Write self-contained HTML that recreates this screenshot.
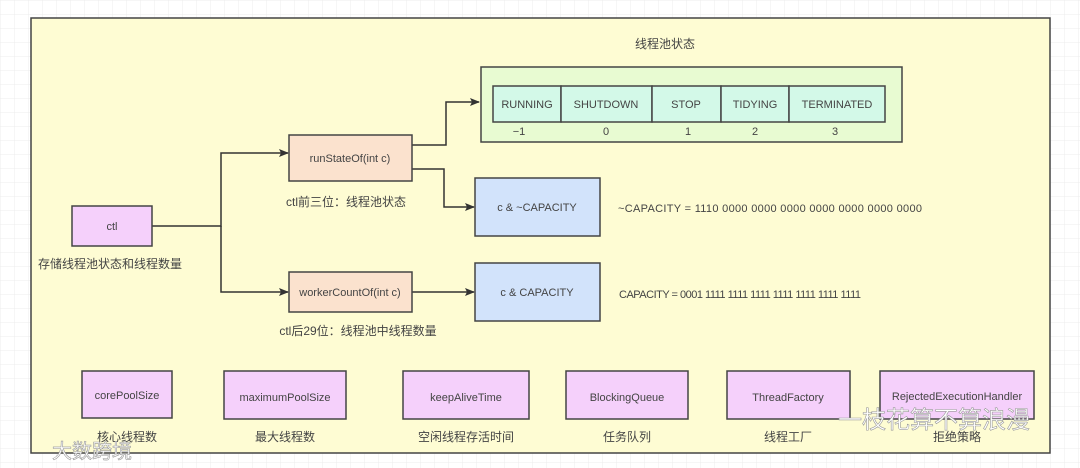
<!DOCTYPE html>
<html><head><meta charset="utf-8"><style>
html,body{margin:0;padding:0;background:#fff;}
svg{display:block;}
text{font-family:"Liberation Sans","Noto Sans CJK SC",sans-serif;font-size:11px;fill:#444;}
.c{font-size:12px;}
</style></head><body>
<svg width="1080" height="468" viewBox="0 0 1080 468" xmlns="http://www.w3.org/2000/svg">
<defs>
<pattern id="g" width="14" height="14" patternUnits="userSpaceOnUse"><path d="M14 0H0V14" fill="none" stroke="#ececec" stroke-width="1"/></pattern>
<marker id="a" markerWidth="10" markerHeight="8" refX="9" refY="4" orient="auto" markerUnits="userSpaceOnUse"><path d="M0,0L10,4L0,8L2,4z" fill="#333"/></marker>
</defs>
<rect width="1080" height="468" fill="url(#g)"/>
<rect x="31" y="18" width="1019" height="435" fill="#fefcd3" stroke="#444" stroke-width="1.5"/>
<text class="c" x="665" y="48" text-anchor="middle">线程池状态</text>
<rect x="481" y="67" width="421" height="75" fill="#e8fbd2" stroke="#444" stroke-width="1.5"/>
<g stroke="#444" stroke-width="1.5" fill="#d3f9e8">
<rect x="493" y="86" width="68" height="36"/><rect x="561" y="86" width="91" height="36"/><rect x="652" y="86" width="69" height="36"/><rect x="721" y="86" width="68" height="36"/><rect x="789" y="86" width="96" height="36"/>
</g>
<g text-anchor="middle">
<text x="527" y="108">RUNNING</text><text x="606" y="108">SHUTDOWN</text><text x="686" y="108">STOP</text><text x="755" y="108">TIDYING</text><text x="837" y="108">TERMINATED</text>
<text x="519" y="135">−1</text><text x="606" y="135">0</text><text x="688" y="135">1</text><text x="755" y="135">2</text><text x="835" y="135">3</text>
</g>
<g stroke="#333" stroke-width="1.5" fill="none">
<path d="M152 226H221V153H288" marker-end="url(#a)"/>
<path d="M221 226V292H288" marker-end="url(#a)"/>
<path d="M412 145H446V102H479" marker-end="url(#a)"/>
<path d="M412 169H444V207H474" marker-end="url(#a)"/>
<path d="M412 292H474" marker-end="url(#a)"/>
</g>
<rect x="72" y="206" width="80" height="40" fill="#f5d0fb" stroke="#444" stroke-width="1.5"/>
<text x="112" y="230" text-anchor="middle">ctl</text>
<text class="c" x="110" y="268" text-anchor="middle">存储线程池状态和线程数量</text>
<rect x="289" y="135" width="123" height="46" fill="#fbe2ce" stroke="#444" stroke-width="1.5"/>
<text x="350" y="162" text-anchor="middle">runStateOf(int c)</text>
<text class="c" x="346" y="206" text-anchor="middle">ctl前三位：线程池状态</text>
<rect x="289" y="272" width="123" height="40" fill="#fbe2ce" stroke="#444" stroke-width="1.5"/>
<text x="350" y="296" text-anchor="middle">workerCountOf(int c)</text>
<text class="c" x="358" y="335" text-anchor="middle">ctl后29位：线程池中线程数量</text>
<rect x="475" y="178" width="125" height="58" fill="#d2e3fb" stroke="#444" stroke-width="1.5"/>
<text x="537" y="211" text-anchor="middle">c &amp; ~CAPACITY</text>
<rect x="475" y="263" width="125" height="58" fill="#d2e3fb" stroke="#444" stroke-width="1.5"/>
<text x="537" y="296" text-anchor="middle">c &amp; CAPACITY</text>
<text x="618" y="212" textLength="304">~CAPACITY = 1110 0000 0000 0000 0000 0000 0000 0000</text>
<text x="619" y="298" textLength="242">CAPACITY = 0001 1111 1111 1111 1111 1111 1111 1111</text>
<g stroke="#444" stroke-width="1.5" fill="#f5d0fb">
<rect x="82" y="371" width="90" height="47"/><rect x="224" y="371" width="122" height="48"/><rect x="403" y="371" width="126" height="48"/><rect x="566" y="371" width="122" height="48"/><rect x="727" y="371" width="123" height="48"/><rect x="880" y="371" width="154" height="48"/>
</g>
<g text-anchor="middle">
<text x="127" y="399">corePoolSize</text><text x="285" y="401">maximumPoolSize</text><text x="466" y="401">keepAliveTime</text><text x="627" y="401">BlockingQueue</text><text x="788" y="401">ThreadFactory</text><text x="957" y="400">RejectedExecutionHandler</text>
<text class="c" x="127" y="441">核心线程数</text><text class="c" x="285" y="441">最大线程数</text><text class="c" x="466" y="441">空闲线程存活时间</text><text class="c" x="627" y="441">任务队列</text><text class="c" x="788" y="441">线程工厂</text><text class="c" x="957" y="441">拒绝策略</text>
</g>
<text x="838" y="428" style="font-size:24px;fill:#fff;stroke:#999;stroke-width:0.6">一枝花算不算浪漫</text>
<text x="52" y="458" style="font-size:20px;fill:#fff;stroke:#999;stroke-width:0.6">大数跨境</text>
</svg>
</body></html>
